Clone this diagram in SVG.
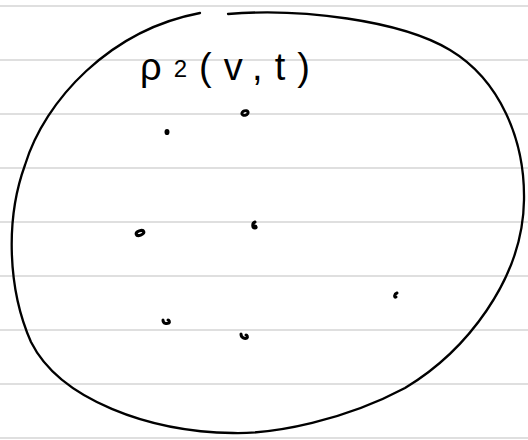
<svg xmlns="http://www.w3.org/2000/svg" width="528" height="440" viewBox="0 0 528 440">
<style>
.rule{stroke:#d4d4d4;stroke-width:1.4;fill:none}
.ink{stroke:#000;stroke-width:2.3;fill:none;stroke-linecap:round;stroke-linejoin:round}
.dot{stroke:#000;stroke-width:3;fill:none;stroke-linecap:round}
.hand{font-family:"Liberation Sans","DejaVu Sans",sans-serif;fill:#000}
</style>
<rect width="528" height="440" fill="#fff"/>
<g id="paper-lines">
<line class="rule" x1="0" y1="6" x2="528" y2="6"/>
<line class="rule" x1="0" y1="60" x2="528" y2="60"/>
<line class="rule" x1="0" y1="114" x2="528" y2="114"/>
<line class="rule" x1="0" y1="168" x2="528" y2="168"/>
<line class="rule" x1="0" y1="222" x2="528" y2="222"/>
<line class="rule" x1="0" y1="276" x2="528" y2="276"/>
<line class="rule" x1="0" y1="330" x2="528" y2="330"/>
<line class="rule" x1="0" y1="384" x2="528" y2="384"/>
<line class="rule" x1="0" y1="438" x2="528" y2="438"/>
</g>
<g id="region">
<path class="ink" d="M228,14 C300,8 400,20 450,50 C500,80 525,140 524,200 C523,280 465,352 405,388 C345,420 275,434 233,433 C150,432 60,400 31,342 C8,290 5,220 25,165 C45,100 110,30 200,13"/>
</g>
<g id="label">
<text class="hand" x="140" y="80" font-size="38" textLength="170" lengthAdjust="spacing">ρ<tspan font-size="24" dy="-3">2</tspan><tspan dy="3">(v,t)</tspan></text>
</g>
<g id="points">
<ellipse class="dot" cx="245" cy="113" rx="3.2" ry="2.2" transform="rotate(-20 245 113)"/>
<ellipse class="dot" cx="167" cy="132" rx="1" ry="1.6"/>
<ellipse class="dot" cx="140" cy="233" rx="4" ry="2.2" transform="rotate(-20 140 233)"/>
<path class="dot" d="M255,222 C252,223 252,228 255,228 C257,228 256,226 255,226"/>
<path class="dot" d="M397,293 C394,294 394,298 396,297"/>
<path class="dot" d="M163,320 C163,324 167,324 169,323 C170,322 169,320 168,320"/>
<path class="dot" d="M241,334 C241,338 245,339 247,338 C248,337 247,335 246,335"/>
</g>
</svg>
